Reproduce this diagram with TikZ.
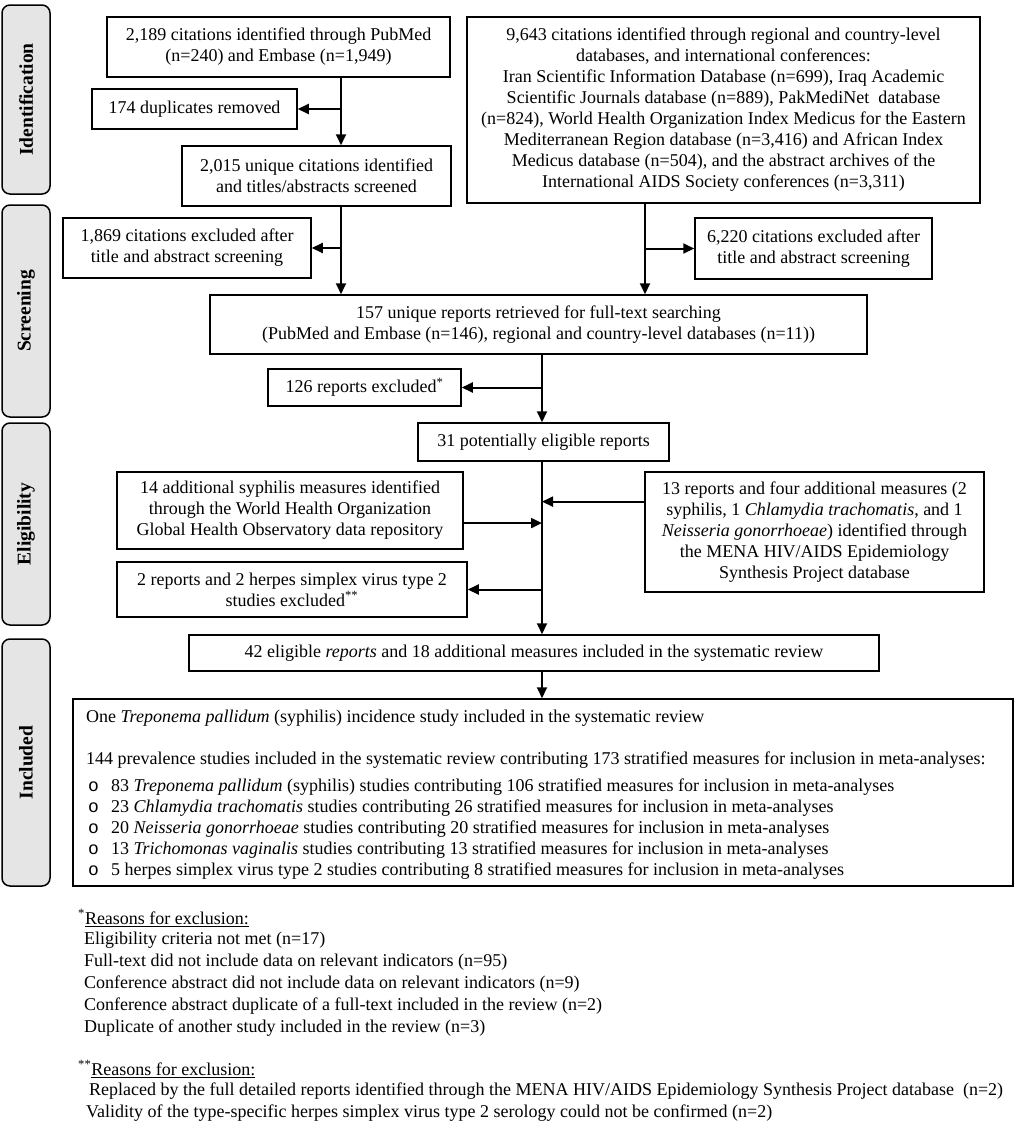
\documentclass[tikz,border=0pt]{standalone}
\usepackage{fontspec}
\setmainfont{Liberation Serif}
\newfontfamily\monof{Liberation Mono}
\usetikzlibrary{arrows.meta,positioning,calc}
\tikzset{bx/.style={draw,line width=1.5pt,align=center,inner sep=0pt},
 side/.style={draw,line width=1.5pt,fill=black!10,rounded corners=8pt,rotate=90,minimum height=48pt,inner sep=0pt,font=\fontsize{19.5}{22}\selectfont\bfseries},
 flow/.style={-{Triangle[length=11pt,width=10pt]},line width=2pt},
 txt/.style={anchor=west,inner sep=0pt},
 blt/.style={anchor=west,inner sep=0pt,font=\fontsize{18}{21}\monof}}

\begin{document}
\begin{tikzpicture}[x=1pt,y=-1pt,every node/.style={font=\fontsize{18}{21}\selectfont}]
\useasboundingbox (0,0) rectangle (1024,1138);
% phase labels
\node[side,minimum width=189pt](sId)at(26,99.5){Identification};
\node[side,minimum width=212pt](sSc)at(26,311){Screening};
\node[side,minimum width=202pt](sEl)at(26,524){Eligibility};
\node[side,minimum width=247pt](sIn)at(26,762.5){Included};
% boxes
\node[bx,minimum width=343pt,minimum height=60pt](src1)at(278.5,47){2,189 citations identified through PubMed\\(n=240) and Embase (n=1,949)};
\node[bx,minimum width=205pt,minimum height=40pt](dup)at(194.5,109){174 duplicates removed};
\node[bx,minimum width=269pt,minimum height=60pt](uniq)at(316.5,176){2,015 unique citations identified\\and titles/abstracts screened};
\node[bx,minimum width=513pt,minimum height=186pt](src2)at(723.5,110){9,643 citations identified through regional and country-level\\databases, and international conferences:\\Iran Scientific Information Database (n=699), Iraq Academic\\Scientific Journals database (n=889), PakMediNet\ \ database\\(n=824), World Health Organization Index Medicus for the Eastern\\Mediterranean Region database (n=3,416) and African Index\\Medicus database (n=504), and the abstract archives of the\\International AIDS Society conferences (n=3,311)};
\node[bx,minimum width=248pt,minimum height=60pt](exc1)at(187,248){1,869 citations excluded after\\title and abstract screening};
\node[bx,minimum width=237pt,minimum height=61pt](exc2)at(813.5,248.5){6,220 citations excluded after\\title and abstract screening};
\node[bx,minimum width=657pt,minimum height=59pt](full)at(538.5,324.5){157 unique reports retrieved for full-text searching\\(PubMed and Embase (n=146), regional and country-level databases (n=11))};
\node[bx,minimum width=193pt,minimum height=37pt](exc3)at(364.5,387.5){126 reports excluded\textsuperscript{*}};
\node[bx,minimum width=251pt,minimum height=38pt](pot)at(543.5,442){31 potentially eligible reports};
\node[bx,minimum width=346pt,minimum height=77pt](who)at(290,510.5){14 additional syphilis measures identified\\through the World Health Organization\\Global Health Observatory data repository};
\node[bx,minimum width=339pt,minimum height=120pt](mena)at(814.5,532){13 reports and four additional measures (2\\syphilis, 1 \textit{Chlamydia trachomatis}, and 1\\\textit{Neisseria gonorrhoeae}) identified through\\the MENA HIV/AIDS Epidemiology\\Synthesis Project database};
\node[bx,minimum width=350pt,minimum height=55pt](exc4)at(292,589.5){2 reports and 2 herpes simplex virus type 2\\studies excluded\textsuperscript{**}};
\node[bx,minimum width=690pt,minimum height=36pt](elig)at(534,653){42 eligible \textit{reports} and 18 additional measures included in the systematic review};
\node[bx,minimum width=940pt,minimum height=187pt](incl)at(543,792.5){};
% included box content
\node[txt](i1)at(86,718){One \textit{Treponema pallidum} (syphilis) incidence study included in the systematic review};
\node[txt](i2)at(86,760){144 prevalence studies included in the systematic review contributing 173 stratified measures for inclusion in meta-analyses:};
\foreach \y/\t [count=\k] in {787/{83 \textit{Treponema pallidum} (syphilis) studies contributing 106 stratified measures for inclusion in meta-analyses},
 808/{23 \textit{Chlamydia trachomatis} studies contributing 26 stratified measures for inclusion in meta-analyses},
 829/{20 \textit{Neisseria gonorrhoeae} studies contributing 20 stratified measures for inclusion in meta-analyses},
 850/{13 \textit{Trichomonas vaginalis} studies contributing 13 stratified measures for inclusion in meta-analyses},
 871/{5 herpes simplex virus type 2 studies contributing 8 stratified measures for inclusion in meta-analyses}}
 {\node[blt](o\k)at(88,\y){o};\node[txt](l\k)at(111,\y){\t};}
% trunks
\coordinate(t1)at(341,0);\coordinate(t2)at(645,0);\coordinate(t3)at(542,0);
\draw[flow](t1|-src1.south)--(t1|-uniq.north);
\draw[flow](t1|-dup.east)--(dup.east);
\draw[flow](t1|-uniq.south)--(t1|-full.north);
\draw[flow](t1|-exc1.east)--(exc1.east);
\draw[flow](t2|-src2.south)--(t2|-full.north);
\draw[flow](t2|-exc2.west)--(exc2.west);
\draw[flow](t3|-full.south)--(t3|-pot.north);
\draw[flow](t3|-exc3.east)--(exc3.east);
\draw[flow](t3|-pot.south)--(t3|-elig.north);
\coordinate(w1)at($(who.north east)!.66!(who.south east)$);
\coordinate(m1)at($(mena.north west)!.25!(mena.south west)$);
\draw[flow](w1)--(t3|-w1);
\draw[flow](m1)--(t3|-m1);
\draw[flow](t3|-exc4.east)--(exc4.east);
\draw[flow](t3|-elig.south)--(t3|-incl.north);
% footnotes
\node[txt](f1)at(78,918){\textsuperscript{*}\underline{Reasons for exclusion:}};
\foreach \y/\t [count=\k] in {940/{Eligibility criteria not met (n=17)},962/{Full-text did not include data on relevant indicators (n=95)},984/{Conference abstract did not include data on relevant indicators (n=9)},1006/{Conference abstract duplicate of a full-text included in the review (n=2)},1028/{Duplicate of another study included in the review (n=3)}}
 {\node[txt](r\k)at(84,\y){\t};}
\node[txt](f2)at(78,1069){\textsuperscript{**}\underline{Reasons for exclusion:}};
\node[txt](q1)at(89,1091){Replaced by the full detailed reports identified through the MENA HIV/AIDS Epidemiology Synthesis Project database\ \ (n=2)};
\node[txt](q2)at(86,1113){Validity of the type-specific herpes simplex virus type 2 serology could not be confirmed (n=2)};
\end{tikzpicture}
\end{document}
